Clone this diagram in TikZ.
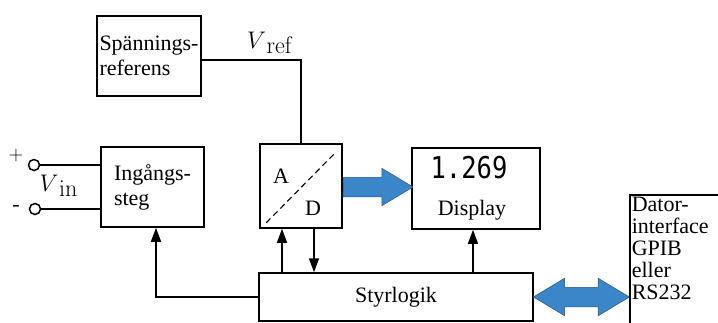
\RequirePackage{fix-cm}
\documentclass[tikz,border=0pt]{standalone}
\usepackage[no-math]{fontspec}
\setmainfont{Liberation Serif}
\newfontfamily\lcdfont{DejaVu Sans Mono}
\usetikzlibrary{positioning,arrows.meta,shapes.arrows,calc}
\definecolor{busblue}{RGB}{58,134,200}
\definecolor{busedge}{RGB}{40,85,130}
\newcommand{\volt}[1]{$V$\kern0.5pt\raisebox{-5pt}{$\mathrm{#1}$}}

\begin{document}
\begin{tikzpicture}[x=1pt, y=1pt, line width=1.5pt,
  blk/.style={draw, inner sep=1pt, align=left, font=\fontsize{22}{25}\selectfont},
  lbl/.style={inner sep=0pt, font=\fontsize{22}{25}\selectfont},
  sym/.style={inner sep=0pt, font=\fontsize{24}{24}\selectfont},
  ctl/.style={-{Triangle[length=14pt,width=10pt]}},
  term/.style={draw, circle, fill=white, minimum size=11pt, inner sep=0pt},
  bus/.style={fill=busblue, draw=busedge, line width=0.5pt, inner xsep=0pt, inner ysep=9.5pt}]
  \useasboundingbox (0,0) rectangle (718,-322);
  \clip (0,0) rectangle (718,-322);
  % blocks
  \node[blk, minimum width=104, minimum height=80] (ref) at (149,-56) {Spännings-\\referens};
  \node[blk, minimum width=103, minimum height=80] (ing) at (152.5,-187) {Ingångs-\\steg};
  \node[blk, minimum width=82, minimum height=84] (ad) at (301,-186) {};
  \node[blk, minimum width=128, minimum height=81] (disp) at (476,-188.5) {};
  \node[blk, minimum width=274, minimum height=48] (styr) at (396,-297) {Styrlogik};
  \node[blk, anchor=north west, minimum width=100, minimum height=150] (dator) at (629,-194) {};
  \node[anchor=north west, align=left, inner sep=2pt, font=\fontsize{22}{22}\selectfont] (datortxt) at (dator.north west) {Dator-\\interface\\GPIB\\eller\\RS232};
  % A/D
  \draw[line width=1.1pt, dash pattern=on 6pt off 4pt] ([shift={(7,6)}]ad.south west) -- ([shift={(-7,-9)}]ad.north east);
  \node[lbl] (alab) at (281,-176) {A};
  \node[lbl] (dlab) at (313,-208) {D};
  % display
  \node[inner sep=0pt] (lcd) at (469,-168) {\lcdfont\fontsize{30}{30}\selectfont\scalebox{0.85}[1]{1.269}};
  \node[lbl] (displab) at (472,-210) {Display};
  % input
  \node[term] (tp) at (34,-165) {};
  \node[term] (tm) at (35,-209) {};
  \node[inner sep=0pt] (plus) at (16,-155) {\fontsize{20}{20}\selectfont$+$};
  \node[lbl] (minus) at (16,-208) {-};
  \node[sym] (vin) at (58.5,-186) {\volt{in}};
  \node[sym] (vref) at (270,-43) {\volt{ref}};
  % connectors
  \draw (tp.east) -- (tp -| ing.west);
  \draw (tm.east) -- (tm -| ing.west);
  \draw ([yshift=-4]ref.east) -| (ad.north);
  \draw[ctl] (styr.west) -| ([xshift=3.5]ing.south);
  \draw[ctl] ([xshift=-19]ad.south |- styr.north) -- ([xshift=-19]ad.south);
  \draw[ctl] ([xshift=13]ad.south) -- ([xshift=13]ad.south |- styr.north);
  \draw[ctl] ([xshift=-3]disp.south |- styr.north) -- ([xshift=-3]disp.south);
  % buses
  \node[bus, single arrow, single arrow head extend=9pt, single arrow tip angle=62,
    minimum width=37pt, minimum height=70pt, anchor=tail] (adbus) at ([yshift=-1]ad.east) {};
  \node[bus, double arrow, double arrow head extend=9pt, double arrow tip angle=62,
    minimum width=36pt, minimum height=96pt] (iobus) at ($(styr.east)!0.5!(styr.east -| dator.west)$) {};
\end{tikzpicture}
\end{document}
